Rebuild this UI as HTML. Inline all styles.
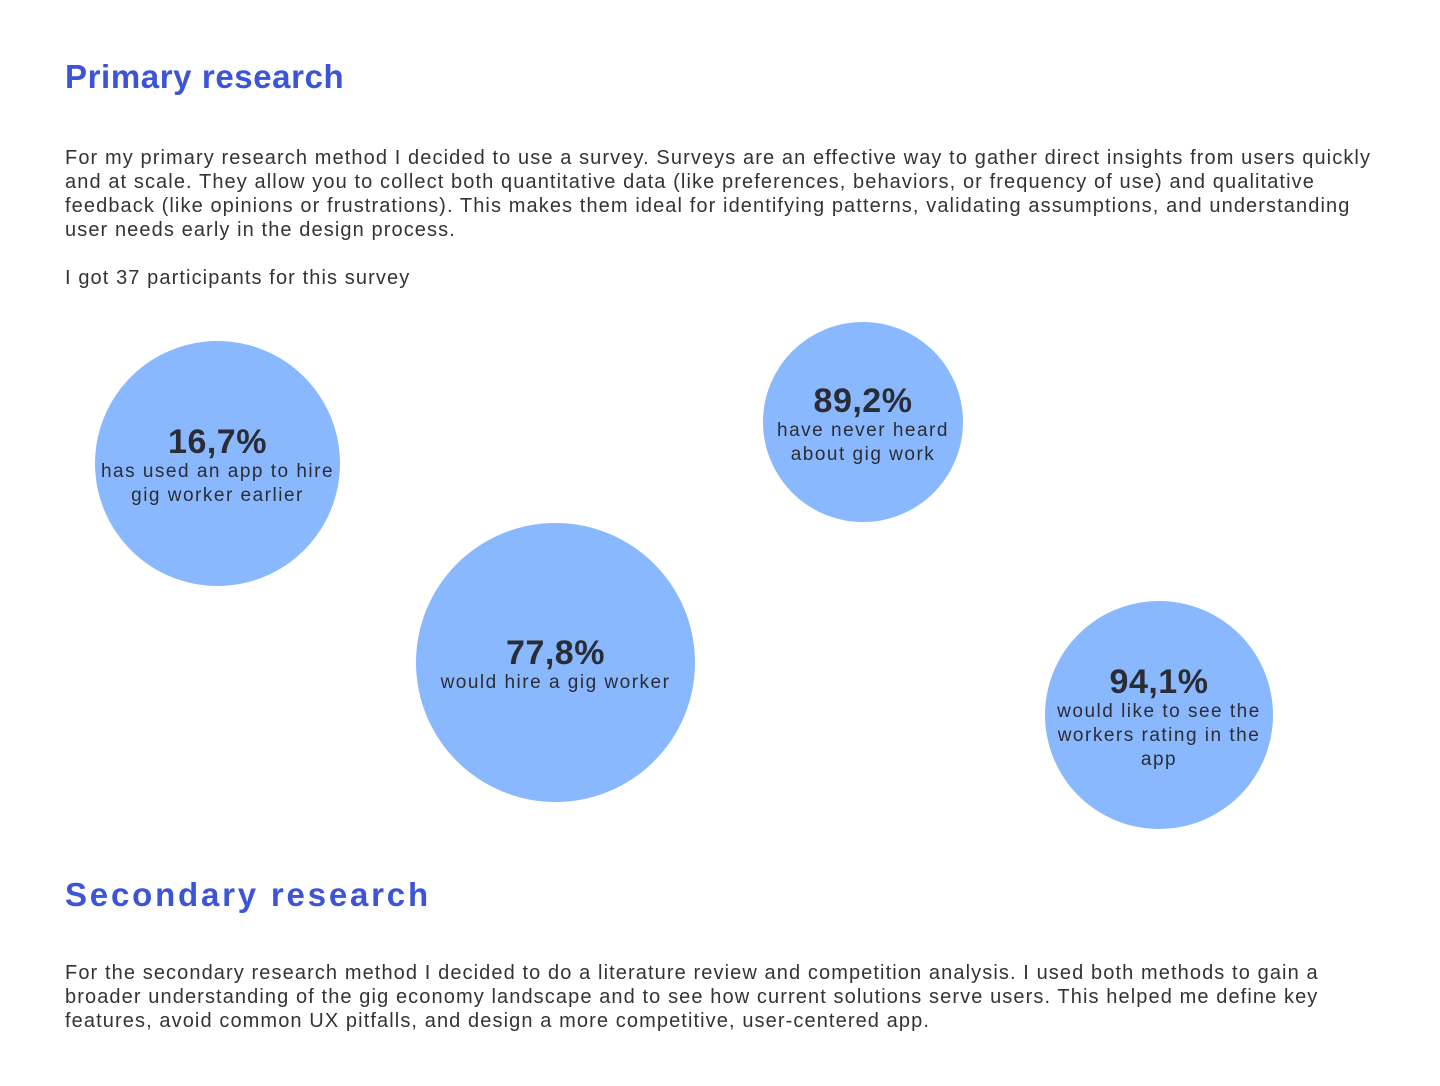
<!DOCTYPE html>
<html><head><meta charset="utf-8"><style>
html,body{margin:0;padding:0;background:#fff;width:1440px;height:1086px;overflow:hidden;position:relative;font-family:"Liberation Sans",sans-serif;color:#333;}
h1{position:absolute;left:65px;margin:0;font-size:33px;font-weight:bold;color:#3b55d6;letter-spacing:0.6px;line-height:40px;white-space:nowrap}
.p{position:absolute;left:65px;font-size:20px;line-height:24px;letter-spacing:1.1px;white-space:nowrap;color:#333}
.c{position:absolute;border-radius:50%;background:#8ab8fe;display:flex;flex-direction:column;align-items:center;justify-content:center;text-align:center;color:#2a2d35;box-sizing:border-box;padding-top:5px}
.c b{font-size:34px;line-height:36px;letter-spacing:0.5px}
.c span{font-size:19px;line-height:24px;letter-spacing:1.5px}
</style></head><body>
<h1 style="top:57px">Primary research</h1>
<div class="p" style="top:146px">For my primary research method I decided to use a survey. Surveys are an effective way to gather direct insights from users quickly<br>and at scale. They allow you to collect both quantitative data (like preferences, behaviors, or frequency of use) and qualitative<br>feedback (like opinions or frustrations). This makes them ideal for identifying patterns, validating assumptions, and understanding<br>user needs early in the design process.<br><br>I got 37 participants for this survey</div>

<div class="c" style="left:95px;top:341px;width:245px;height:245px"><b>16,7%</b><span>has used an app to hire<br>gig worker earlier</span></div>
<div class="c" style="left:416px;top:523px;width:279px;height:279px"><b>77,8%</b><span>would hire a gig worker</span></div>
<div class="c" style="left:763px;top:322px;width:200px;height:200px"><b>89,2%</b><span>have never heard<br>about gig work</span></div>
<div class="c" style="left:1045px;top:601px;width:228px;height:228px"><b>94,1%</b><span>would like to see the<br>workers rating in the<br>app</span></div>

<h1 style="top:875px;letter-spacing:2.8px">Secondary research</h1>
<div class="p" style="top:961px">For the secondary research method I decided to do a literature review and competition analysis. I used both methods to gain a<br>broader understanding of the gig economy landscape and to see how current solutions serve users. This helped me define key<br>features, avoid common UX pitfalls, and design a more competitive, user-centered app.</div>
</body></html>
